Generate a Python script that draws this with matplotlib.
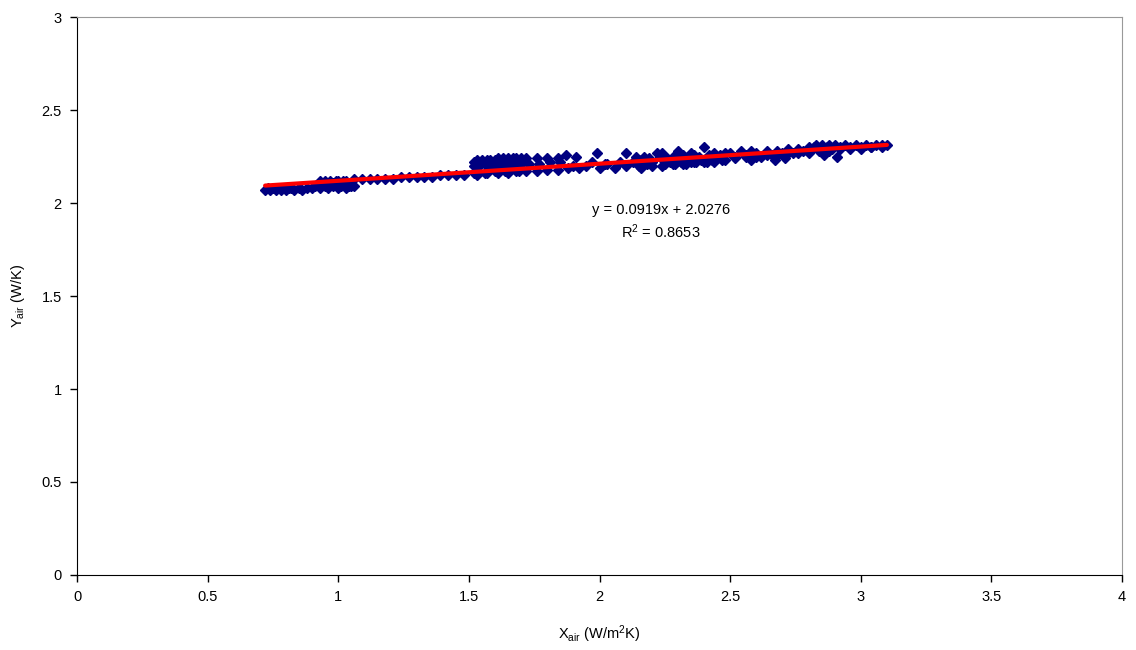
import matplotlib
matplotlib.use("Agg")
import matplotlib.pyplot as plt

plt.rcParams["font.family"] = ["Liberation Sans", "DejaVu Sans"]
plt.rcParams["mathtext.default"] = "regular"

# lower band near x = 0.7 - 1.06
xa = [0.72, 0.73, 0.74, 0.75, 0.76, 0.77, 0.78, 0.79, 0.80, 0.81, 0.82, 0.83,
      0.85, 0.86, 0.88, 0.90, 0.91, 0.93, 0.95, 0.96, 0.98, 1.00, 1.01, 1.03,
      1.04, 1.05, 1.06]
ya = [2.07, 2.08, 2.07, 2.08, 2.07, 2.08, 2.07, 2.08, 2.07, 2.08, 2.08, 2.07,
      2.08, 2.07, 2.08, 2.08, 2.09, 2.08, 2.09, 2.08, 2.09, 2.08, 2.09, 2.08,
      2.09, 2.09, 2.09]

# upper band along the line, x = 0.93 - 1.5
xb = [0.93, 0.95, 0.97, 0.99, 1.00, 1.02, 1.03, 1.06, 1.09, 1.12, 1.15, 1.18,
      1.21, 1.24, 1.27, 1.30, 1.33, 1.36, 1.39, 1.42, 1.45, 1.48, 0.94, 0.98,
      1.01, 1.04]
yb = [2.12, 2.12, 2.12, 2.12, 2.12, 2.12, 2.12, 2.13, 2.13, 2.13, 2.13, 2.13,
      2.13, 2.14, 2.14, 2.14, 2.14, 2.14, 2.15, 2.15, 2.15, 2.15, 2.10, 2.11,
      2.10, 2.11]

# dense cluster x = 1.5 - 1.86
xc = [1.52, 1.53, 1.54, 1.55, 1.56, 1.57, 1.58, 1.59, 1.60, 1.61, 1.62, 1.63,
      1.64, 1.65, 1.66, 1.67, 1.68, 1.69, 1.70, 1.52, 1.54, 1.56, 1.58, 1.60,
      1.62, 1.64, 1.66, 1.68, 1.70, 1.53, 1.57, 1.61, 1.65, 1.69, 1.72, 1.76,
      1.80, 1.84, 1.73, 1.77, 1.81, 1.85, 1.52, 1.56, 1.60, 1.64, 1.68, 1.72,
      1.76, 1.80, 1.84]
yc = [2.22, 2.23, 2.22, 2.23, 2.22, 2.23, 2.23, 2.22, 2.23, 2.24, 2.23, 2.24,
      2.23, 2.24, 2.23, 2.24, 2.24, 2.23, 2.24, 2.20, 2.20, 2.21, 2.20, 2.21,
      2.21, 2.21, 2.20, 2.21, 2.21, 2.15, 2.16, 2.16, 2.16, 2.17, 2.24, 2.24,
      2.24, 2.24, 2.21, 2.21, 2.22, 2.22, 2.16, 2.16, 2.17, 2.17, 2.17, 2.17,
      2.17, 2.18, 2.18]

# spread region x = 1.86 - 2.5
xd = [1.87, 1.88, 1.91, 1.92, 1.95, 1.99, 2.00, 2.03, 2.06, 2.10, 2.10, 2.13,
      2.14, 2.15, 2.16, 2.17, 2.18, 2.19, 2.20, 2.22, 2.23, 2.24, 2.25, 2.26,
      2.27, 2.28, 2.29, 2.30, 2.31, 2.32, 2.33, 2.34, 2.35, 2.36, 2.37, 2.38,
      2.39, 2.40, 2.41, 2.42, 2.43, 2.44, 2.45, 2.46, 2.47, 2.48, 2.16, 2.20,
      2.24, 2.28, 2.32, 2.36, 2.40, 2.44, 2.48, 1.90, 1.97, 2.02, 2.08, 2.30,
      2.35]
yd = [2.26, 2.19, 2.25, 2.19, 2.20, 2.27, 2.19, 2.21, 2.19, 2.27, 2.20, 2.22,
      2.25, 2.20, 2.23, 2.25, 2.21, 2.24, 2.22, 2.27, 2.25, 2.27, 2.21, 2.24,
      2.22, 2.25, 2.21, 2.24, 2.22, 2.26, 2.21, 2.24, 2.22, 2.26, 2.22, 2.25,
      2.23, 2.30, 2.22, 2.26, 2.23, 2.27, 2.24, 2.26, 2.23, 2.27, 2.19, 2.20,
      2.20, 2.21, 2.21, 2.22, 2.22, 2.22, 2.23, 2.20, 2.22, 2.21, 2.22, 2.28,
      2.27]

# upper end x = 2.5 - 3.1
xe = [2.50, 2.52, 2.54, 2.56, 2.58, 2.58, 2.60, 2.62, 2.64, 2.66, 2.67, 2.68,
      2.70, 2.71, 2.72, 2.74, 2.76, 2.78, 2.80, 2.82, 2.83, 2.84, 2.85, 2.86,
      2.87, 2.88, 2.89, 2.90, 2.91, 2.92, 2.94, 2.96, 2.98, 3.00, 3.02, 3.04,
      3.06, 3.08, 3.10, 2.52, 2.56, 2.60, 2.64, 2.68, 2.72, 2.76, 2.80, 2.84,
      2.88, 2.92, 2.96, 3.00, 3.04, 3.08]
ye = [2.27, 2.25, 2.28, 2.26, 2.28, 2.23, 2.27, 2.25, 2.28, 2.26, 2.23, 2.28,
      2.27, 2.24, 2.29, 2.27, 2.29, 2.28, 2.30, 2.30, 2.31, 2.29, 2.31, 2.26,
      2.30, 2.31, 2.29, 2.31, 2.25, 2.30, 2.31, 2.30, 2.31, 2.30, 2.31, 2.30,
      2.31, 2.31, 2.31, 2.24, 2.25, 2.25, 2.26, 2.26, 2.27, 2.27, 2.27, 2.28,
      2.28, 2.29, 2.29, 2.29, 2.30, 2.30]

x = xa + xb + xc + xd + xe
y = ya + yb + yc + yd + ye

slope, intercept, r2 = 0.0919, 2.0276, 0.8653

fig = plt.figure(figsize=(11.36, 6.5), dpi=100)
ax = fig.add_axes([0.0678, 0.1154, 0.9199, 0.8584])

ax.plot(x, y, ls="none", marker="D", ms=5.5, color="#000080",
        mec="#000080", zorder=2)
x0, x1 = min(x), max(x)
ax.plot([x0, x1], [slope * x0 + intercept, slope * x1 + intercept],
        color="#ff0000", lw=3, solid_capstyle="round", zorder=3)

ax.text(2.235, 1.96, f"y = {slope}x + {intercept}", ha="center",
        va="center", fontsize=10.5)
ax.text(2.235, 1.845, f"R$^2$ = {r2}", ha="center", va="center",
        fontsize=10.5)

ax.set_xlim(0, 4)
ax.set_ylim(0, 3)
ax.set_xticks([0, 0.5, 1, 1.5, 2, 2.5, 3, 3.5, 4])
ax.set_xticklabels(["0", "0.5", "1", "1.5", "2", "2.5", "3", "3.5", "4"])
ax.set_yticks([0, 0.5, 1, 1.5, 2, 2.5, 3])
ax.set_yticklabels(["0", "0.5", "1", "1.5", "2", "2.5", "3"])
ax.tick_params(direction="out", length=5, width=1, labelsize=10.5, pad=6)
for s in ["top", "right"]:
    ax.spines[s].set_color("#999999")
for s in ["left", "bottom"]:
    ax.spines[s].set_color("black")

ax.set_xlabel("X$_{air}$ (W/m$^2$K)", fontsize=10.5, labelpad=14)
ax.set_ylabel("Y$_{air}$ (W/K)", fontsize=10.5, labelpad=10)

fig.savefig("out.png", dpi=100)
